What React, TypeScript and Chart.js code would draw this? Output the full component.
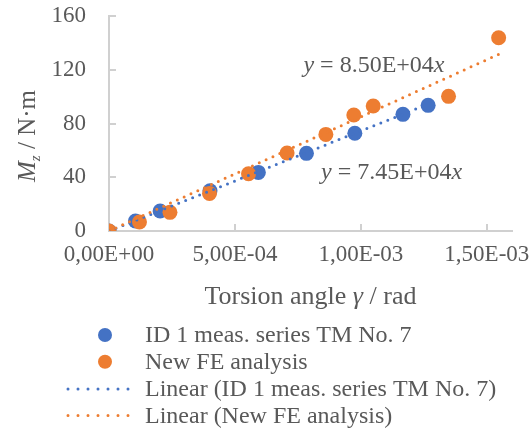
import { useEffect, useRef } from 'react';
import { Chart, registerables } from 'chart.js';

Chart.register(...registerables);

// ---- data ----
const blueName = 'ID 1 meas. series TM No. 7';
const orangeName = 'New FE analysis';
const blueX = [0, 1.05e-4, 2.03e-4, 4.01e-4, 5.93e-4, 7.84e-4, 9.76e-4, 1.167e-3, 1.267e-3];
const blueY = [0, 7.4, 14.9, 30.0, 43.6, 57.8, 72.7, 86.8, 93.5];
const orangeX = [0, 1.21e-4, 2.42e-4, 3.99e-4, 5.54e-4, 7.07e-4, 8.61e-4, 9.72e-4, 1.049e-3, 1.348e-3, 1.547e-3];
const orangeY = [0, 6.7, 13.9, 28.0, 42.6, 58.0, 71.9, 86.3, 93.0, 100.2, 143.8];
const blueSlope = 7.45e4;
const orangeSlope = 8.5e4;
const blueSlopeLabel = '7.45E+04';
const orangeSlopeLabel = '8.50E+04';
const xTickValues = [0, 5e-4, 1e-3, 1.5e-3];
const xTickLabels = ['0,00E+00', '5,00E-04', '1,00E-03', '1,50E-03'];
const yTickValues = [0, 40, 80, 120, 160];
const yTickLabels = ['0', '40', '80', '120', '160'];
const xTitleRegular1 = 'Torsion angle ';
const xTitleItalic = 'γ';
const xTitleRegular2 = ' / rad';
const yTitleMain = 'M';
const yTitleSub = 'z';
const yTitleRest = ' / N·m';

const BLUE = '#4472C4';
const ORANGE = '#ED7D31';
const TEXT = '#595959';
const AXIS = '#d0d0d0';
const FONT = "'Liberation Serif', 'Times New Roman', serif";

type Run = { t: string; i?: boolean; size?: number; dy?: number };

function drawRuns(ctx: CanvasRenderingContext2D, runs: Run[], x: number, y: number, baseSize: number, align: 'left' | 'center') {
  const widths = runs.map((r) => {
    ctx.font = `${r.i ? 'italic ' : ''}${r.size ?? baseSize}px ${FONT}`;
    return ctx.measureText(r.t).width;
  });
  const total = widths.reduce((a, b) => a + b, 0);
  let cx = align === 'center' ? x - total / 2 : x;
  ctx.textAlign = 'left';
  ctx.textBaseline = 'alphabetic';
  runs.forEach((r, k) => {
    ctx.font = `${r.i ? 'italic ' : ''}${r.size ?? baseSize}px ${FONT}`;
    ctx.fillText(r.t, cx, y + (r.dy ?? 0));
    cx += widths[k];
  });
}

const decorPlugin = {
  id: 'decor',
  afterDraw(chart: any) {
    const ctx: CanvasRenderingContext2D = chart.ctx;
    const xs = chart.scales.x;
    const ys = chart.scales.y;
    ctx.save();
    ctx.fillStyle = TEXT;
    // equations
    drawRuns(ctx, [{ t: 'y', i: true }, { t: ' = ' + orangeSlopeLabel }, { t: 'x', i: true }],
      xs.getPixelForValue(1.052e-3), ys.getPixelForValue(118.3), 24, 'center');
    drawRuns(ctx, [{ t: 'y', i: true }, { t: ' = ' + blueSlopeLabel }, { t: 'x', i: true }],
      xs.getPixelForValue(1.122e-3), ys.getPixelForValue(38.7), 24, 'center');
    // x title
    drawRuns(ctx, [{ t: xTitleRegular1 }, { t: xTitleItalic, i: true }, { t: xTitleRegular2 }],
      310.5, 304, 26, 'center');
    // y title
    ctx.save();
    ctx.translate(35, 136);
    ctx.rotate(-Math.PI / 2);
    drawRuns(ctx, [{ t: yTitleMain, i: true }, { t: yTitleSub, i: true, size: 15, dy: 5 }, { t: yTitleRest }],
      0, 0, 25, 'center');
    ctx.restore();
    // legend
    const rows = [335, 361.7, 389, 415.5];
    const labels = [blueName, orangeName, 'Linear (' + blueName + ')', 'Linear (' + orangeName + ')'];
    const cols = [BLUE, ORANGE, BLUE, ORANGE];
    rows.forEach((ry, k) => {
      if (k < 2) {
        ctx.beginPath();
        ctx.fillStyle = cols[k];
        ctx.arc(105, ry, 7, 0, Math.PI * 2);
        ctx.fill();
      } else {
        ctx.beginPath();
        ctx.strokeStyle = cols[k];
        ctx.lineWidth = 3;
        ctx.lineCap = 'round';
        ctx.setLineDash([0, 10]);
        ctx.moveTo(68, ry);
        ctx.lineTo(138, ry);
        ctx.stroke();
        ctx.setLineDash([]);
      }
      ctx.fillStyle = TEXT;
      ctx.font = `24px ${FONT}`;
      ctx.textAlign = 'left';
      ctx.textBaseline = 'middle';
      ctx.fillText(labels[k], 145, ry + 1);
    });
    ctx.restore();
  },
};

export default function App() {
  const ref = useRef<HTMLCanvasElement>(null);
  useEffect(() => {
    document.body.style.margin = '0';
    const blueMax = Math.max(...blueX);
    const orangeMax = Math.max(...orangeX);
    const chart = new Chart(ref.current!, {
      type: 'scatter',
      data: {
        datasets: [
          {
            label: 'Linear (' + orangeName + ')',
            data: [{ x: 0, y: 0 }, { x: orangeMax, y: orangeSlope * orangeMax }],
            showLine: true,
            pointRadius: 0,
            borderColor: ORANGE,
            borderWidth: 3,
            borderDash: [0, 7.5],
            borderCapStyle: 'round',
            order: 1,
          } as any,
          {
            label: 'Linear (' + blueName + ')',
            data: [{ x: 0, y: 0 }, { x: blueMax, y: blueSlope * blueMax }],
            showLine: true,
            pointRadius: 0,
            borderColor: BLUE,
            borderWidth: 3,
            borderDash: [0, 7.5],
            borderCapStyle: 'round',
            order: 2,
          } as any,
          {
            label: orangeName,
            data: orangeX.map((x, i) => ({ x, y: orangeY[i] })),
            pointRadius: 7.5,
            pointBackgroundColor: ORANGE,
            pointBorderWidth: 0,
            backgroundColor: ORANGE,
            borderColor: ORANGE,
            order: 3,
          },
          {
            label: blueName,
            data: blueX.map((x, i) => ({ x, y: blueY[i] })),
            pointRadius: 7.5,
            pointBackgroundColor: BLUE,
            pointBorderWidth: 0,
            backgroundColor: BLUE,
            borderColor: BLUE,
            order: 4,
          },
        ],
      },
      options: {
        responsive: false,
        animation: false,
        events: [],
        layout: { padding: { top: 16, right: 20, left: 0, bottom: 0 } },
        plugins: { legend: { display: false }, tooltip: { enabled: false } },
        scales: {
          x: {
            type: 'linear',
            min: 0,
            max: 1.6e-3,
            afterBuildTicks: (s: any) => { s.ticks = xTickValues.map((v) => ({ value: v })); },
            afterFit: (s: any) => { s.height = 200; s.paddingLeft = 0; s.paddingRight = 0; },
            grid: { drawOnChartArea: false, drawTicks: true, tickLength: -7, color: AXIS, lineWidth: 2 },
            border: { display: true, color: AXIS, width: 2 },
            ticks: {
              padding: 17,
              maxRotation: 0,
              autoSkip: false,
              color: TEXT,
              font: { family: FONT, size: 23 },
              callback: (v: any) => xTickLabels[xTickValues.indexOf(Number(v))] ?? '',
            },
          },
          y: {
            type: 'linear',
            min: 0,
            max: 160,
            afterBuildTicks: (s: any) => { s.ticks = yTickValues.map((v) => ({ value: v })); },
            afterFit: (s: any) => { s.width = 109; s.paddingTop = 0; s.paddingBottom = 0; },
            grid: { drawOnChartArea: false, drawTicks: true, tickLength: -7, color: AXIS, lineWidth: 2 },
            border: { display: true, color: AXIS, width: 2 },
            ticks: {
              padding: 30,
              color: TEXT,
              font: { family: FONT, size: 23 },
              callback: (v: any) => yTickLabels[yTickValues.indexOf(Number(v))] ?? '',
            },
          },
        },
      } as any,
      plugins: [decorPlugin],
    });
    return () => chart.destroy();
  }, []);
  return (
    <div style={{ width: 532, height: 431 }}>
      <canvas ref={ref} width={532} height={431} style={{ display: 'block' }} />
    </div>
  );
}
